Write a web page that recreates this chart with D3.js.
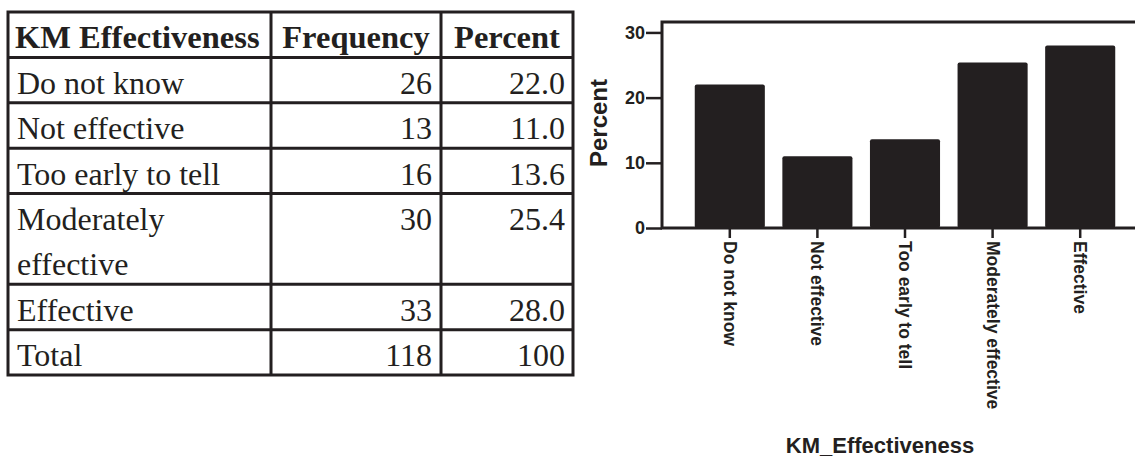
<!DOCTYPE html>
<html><head><meta charset="utf-8">
<script src="https://cdn.jsdelivr.net/npm/d3@7"></script>
<style>body{margin:0;background:#fff}svg{display:block}</style>
</head><body><svg id="c" width="1135" height="460"></svg>
<script>
// ---- data ----
const categories = ["Do not know","Not effective","Too early to tell","Moderately effective","Effective"];
const tableLabels = [["Do not know"],["Not effective"],["Too early to tell"],["Moderately","effective"],["Effective"]];
const frequency = [26,13,16,30,33];
const percent = [22.0,11.0,13.6,25.4,28.0];
const totalLabel = "Total";
const totalFrequency = 118;
const totalPercent = 100;
const headers = ["KM Effectiveness","Frequency","Percent"];
const yTicks = [0,10,20,30];
const yTitle = "Percent";
const xTitle = "KM_Effectiveness";

// ---- layout ----
const ink = "#231f20";
const svg = d3.select("#c");

// ---- table ----
const rows = [{lines:[headers[0]], f:headers[1], p:headers[2], head:true}]
  .concat(tableLabels.map((l,i)=>({lines:l, f:String(frequency[i]), p:percent[i].toFixed(1)})))
  .concat([{lines:[totalLabel], f:String(totalFrequency), p:String(totalPercent)}]);
let acc = 0;
rows.forEach(r=>{ r.start = acc; acc += r.lines.length; r.end = acc; });
const yLine = d3.scaleLinear().domain([0, acc]).range([12, 375]);
const colX = [8, 271, 441, 573];
const lineH = yLine(1) - yLine(0);
const tg = svg.append("g");

rows.forEach(r=>{
  const font = r.head ? "bold 32.5px 'Liberation Serif', 'Times New Roman', serif" : "32px 'Liberation Serif', 'Times New Roman', serif";
  r.lines.forEach((t,k)=>{
    tg.append("text").attr("x", colX[0]+(r.head?7:9)).attr("y", yLine(r.start)+lineH*(k+1)-9)
      .style("font", font).attr("fill", ink).text(t);
  });
  const by = yLine(r.start)+lineH-9;
  if (r.head) {
    tg.append("text").attr("x",(colX[1]+colX[2])/2).attr("y",by).attr("text-anchor","middle").style("font",font).attr("fill",ink).text(r.f);
    tg.append("text").attr("x",(colX[2]+colX[3])/2).attr("y",by).attr("text-anchor","middle").style("font",font).attr("fill",ink).text(r.p);
  } else {
    tg.append("text").attr("x",colX[2]-9).attr("y",by).attr("text-anchor","end").style("font",font).attr("fill",ink).text(r.f);
    tg.append("text").attr("x",colX[3]-8).attr("y",by).attr("text-anchor","end").style("font",font).attr("fill",ink).text(r.p);
  }
});
// borders
rows.slice(1).forEach(r=>{
  tg.append("line").attr("x1",colX[0]).attr("x2",colX[3]).attr("y1",yLine(r.start)).attr("y2",yLine(r.start))
    .attr("stroke",ink).attr("stroke-width",3);
});
colX.slice(1,3).forEach(x=>{
  tg.append("line").attr("x1",x).attr("x2",x).attr("y1",yLine(0)).attr("y2",yLine(acc)).attr("stroke",ink).attr("stroke-width",3);
});
tg.append("rect").attr("x",colX[0]).attr("y",yLine(0)).attr("width",colX[3]-colX[0]).attr("height",yLine(acc)-yLine(0))
  .attr("fill","none").attr("stroke",ink).attr("stroke-width",3);

// ---- chart ----
const x = d3.scaleBand().domain(categories).range([686,1124]).paddingInner(0.2).paddingOuter(0.1);
const y = d3.scaleLinear().domain([0,31.6]).range([228,22]);
const sans = "'Liberation Sans', Arial, Helvetica, sans-serif";
const cg = svg.append("g");

// frame
cg.append("rect").attr("x",662).attr("y",y(31.6)).attr("width",500).attr("height",y(0)-y(31.6))
  .attr("fill","none").attr("stroke",ink).attr("stroke-width",3);

// bars
cg.selectAll("rect.bar").data(categories).join("rect").attr("class","bar")
  .attr("x",d=>x(d)).attr("width",x.bandwidth())
  .attr("y",(d,i)=>y(percent[i])).attr("height",(d,i)=>y(0)-y(percent[i]))
  .attr("rx",2).attr("fill",ink);

// y axis
const ya = cg.append("g").attr("transform","translate(662,0)")
  .call(d3.axisLeft(y).tickValues(yTicks).tickSize(16).tickPadding(1).tickFormat(d3.format("d")));
ya.select(".domain").remove();
ya.selectAll(".tick line").attr("stroke",ink).attr("stroke-width",2.5);
ya.selectAll(".tick text").attr("fill",ink).style("font","bold 18px "+sans);

// x axis
const xa = cg.append("g").attr("transform","translate(0,"+y(0)+")")
  .call(d3.axisBottom(x).tickSize(10).tickPadding(0));
xa.select(".domain").remove();
xa.selectAll(".tick line").attr("stroke",ink).attr("stroke-width",2.5);
xa.selectAll(".tick text").attr("fill",ink).style("font","bold 17.5px "+sans)
  .attr("text-anchor","start").attr("dominant-baseline","central")
  .attr("x",0).attr("y",0).attr("dy",null)
  .attr("transform","translate(0,13) rotate(90)");

// titles
cg.append("text").attr("transform","translate(598,123) rotate(-90)").attr("text-anchor","middle")
  .attr("dominant-baseline","central").style("font","bold 24px "+sans).attr("fill",ink).text(yTitle);
cg.append("text").attr("x",880).attr("y",453).attr("text-anchor","middle")
  .style("font","bold 22px "+sans).attr("fill",ink).text(xTitle);
</script></body></html>
